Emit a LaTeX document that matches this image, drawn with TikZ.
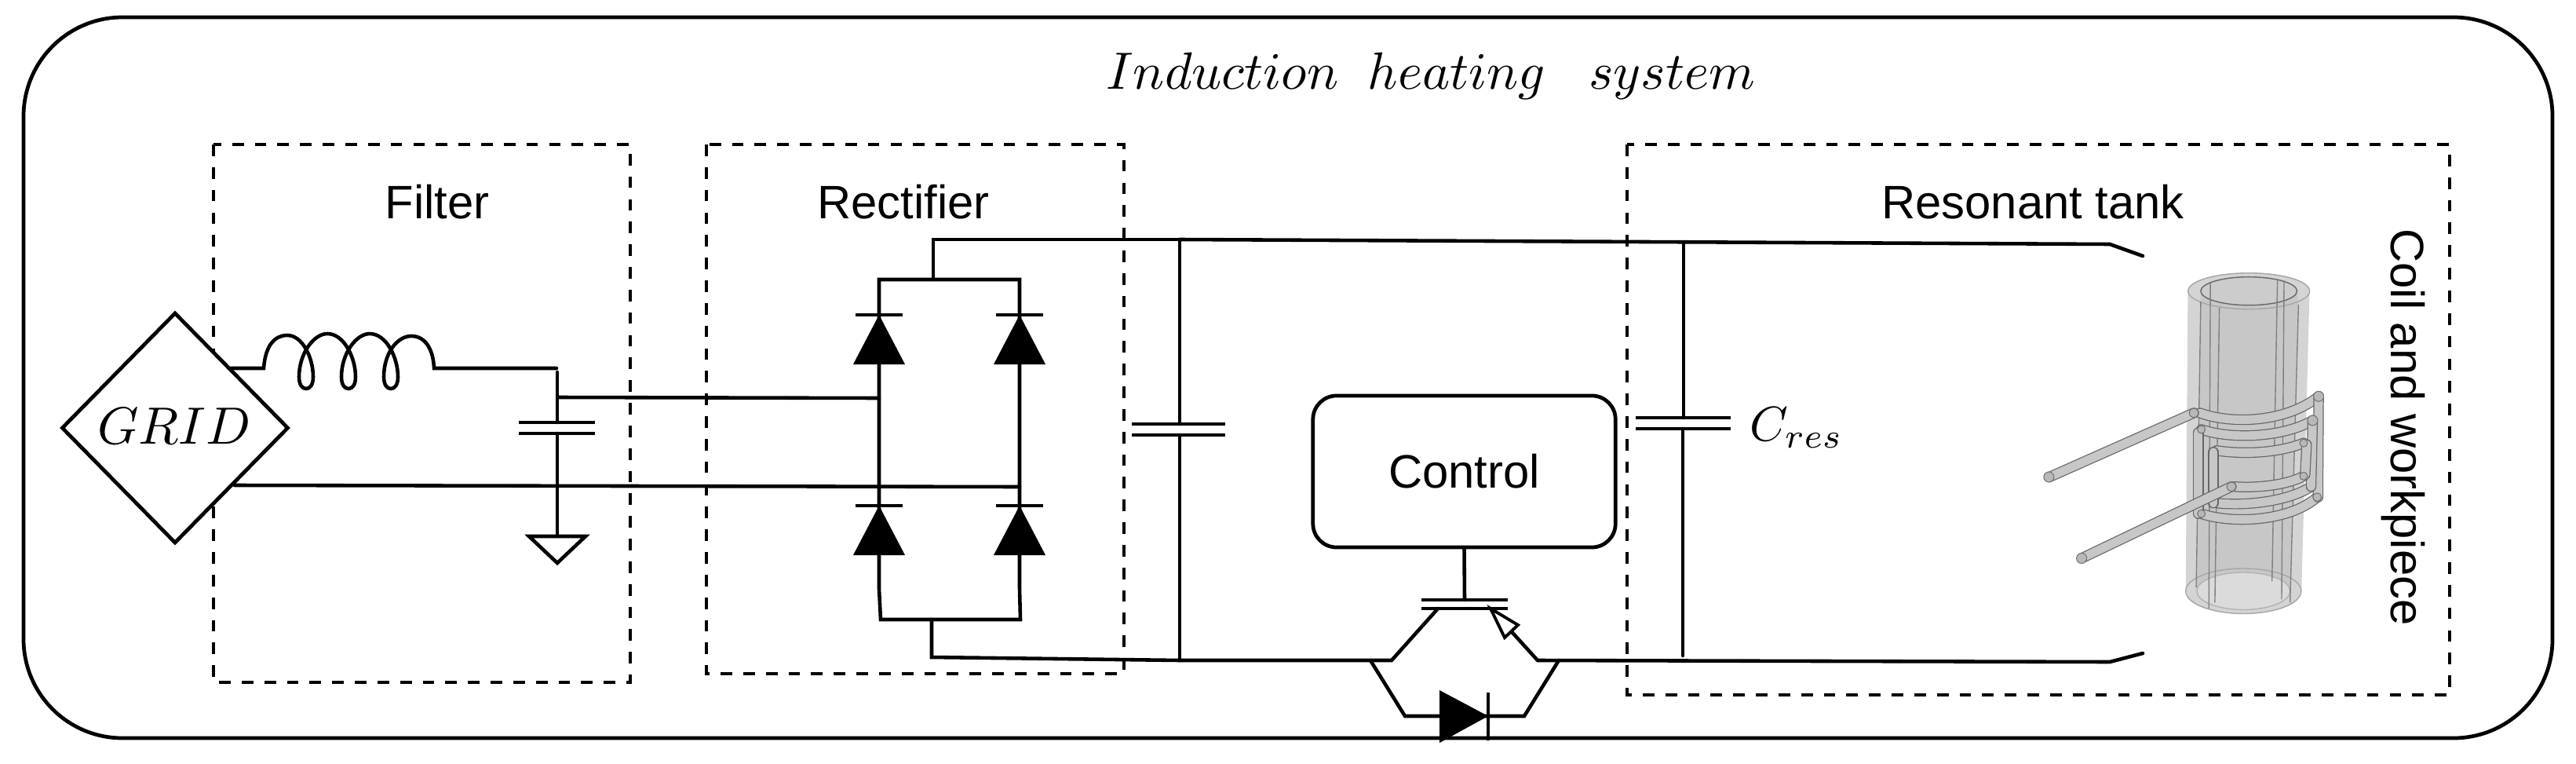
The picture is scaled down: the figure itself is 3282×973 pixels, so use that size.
\documentclass[tikz,border=0pt]{standalone}
\usepackage{fontspec}
\setmainfont{Liberation Sans}
\usetikzlibrary{shapes.geometric}
\tikzset{
  wire/.style={line width=1.3pt,line cap=round,line join=miter,black},
  plate/.style={line width=1.4pt,line cap=butt,black},
  dbox/.style={line width=1.35pt,dash pattern=on 4.2pt off 4pt,black},
  lbl/.style={font=\fontsize{17}{20}\selectfont,inner sep=0pt},
  mth/.style={scale=1.9,inner sep=0pt},
  tube/.style={draw=black!60,line width=.35pt,double=black!22,double distance=3.1pt,line cap=round},
  thin3d/.style={draw=black!50,line width=.4pt},
  cap3d/.style={draw=black!55,fill=black!28,line width=.3pt},
  vdiode/.pic={
    \fill[black] (-33,63) -- (33,63) -- (0,0) -- cycle;
    \draw[plate] (-30,0) -- (30,0);
  }
}
\begin{document}
\begin{tikzpicture}[x=0.01cm,y=-0.01cm]
\useasboundingbox (0,0) rectangle (3282,973);
\draw[line width=1.35pt,rounded corners=1.26cm] (30,22) rectangle (3252,940);

% section boxes
\draw[dbox] (272,184) rectangle (803,869);
\draw[dbox] (900,184) rectangle (1432,858);
\draw[dbox] (2073,184) rectangle (3121,885);

% labels
\node[mth] (title) at (1823,97) {$Induction\ \ heating\ \ \ system$};
\node[lbl] (lfilter) at (557,257) {Filter};
\node[lbl] (lrect) at (1151,257) {Rectifier};
\node[lbl] (ltank) at (2590,257) {Resonant tank};
\node[lbl,rotate=-90] (lcoil) at (3062,544) {Coil and workpiece};
\node[mth,scale=0.93] (lcres) at (2289,545) {$C_{res}$};

% grid source
\node[diamond,draw,line width=1.35pt,fill=white,minimum width=82.2pt,minimum height=83.6pt,aspect=1,inner sep=0pt] (grid) at (223,545) {};
\node[mth] (gridlabel) at (222,543) {$GRID$};

% coordinates
\coordinate (gu) at (294,469);
\coordinate (ls) at (336,469);
\coordinate (le) at (553,469);
\coordinate (cfa) at (709,469);
\coordinate (cft) at (710,474);
\coordinate (cfp1) at (710,538);
\coordinate (cfp2) at (710,552);
\coordinate (gnd) at (710,683);
\coordinate (cfj) at (710,506);
\coordinate (gl) at (299,618);
\coordinate (ru) at (1120,507);
\coordinate (rl) at (1299,620);
\coordinate (rtl) at (1120,356);
\coordinate (rtr) at (1299,356);
\coordinate (rtm) at (1189,356);
\coordinate (rtt) at (1189,305);
\coordinate (rbl) at (1122,789);
\coordinate (rbr) at (1300,789);
\coordinate (rbm) at (1187,789);
\coordinate (rbb) at (1187,837);
\coordinate (rl1) at (1120,750);
\coordinate (rl2) at (1299,750);
\coordinate (bt) at (1503,305);
\coordinate (bb) at (1503,841);
\coordinate (cp1) at (1503,540);
\coordinate (cp2) at (1503,554);
\coordinate (cr) at (2145,309);
\coordinate (crb) at (2144,835);
\coordinate (cr1) at (2145,532);
\coordinate (cr2) at (2144,546);
\coordinate (tr1) at (2688,311);
\coordinate (tr2) at (2730,326);
\coordinate (br1) at (2688,843);
\coordinate (br2) at (2730,832);
\coordinate (coll) at (1773,841);
\coordinate (coll2) at (1832,775);
\coordinate (emit) at (1959,841);
\coordinate (emit2) at (1899,775);
\coordinate (dl) at (1746,841);
\coordinate (dr) at (1986,841);

% inductor
\draw[wire] (gu) -- (ls)
  .. controls (338,440) and (350,427) .. (366,427)
  .. controls (385,427) and (399,455) .. (399,480)
  .. controls (399,490) and (395,495) .. (390,495)
  .. controls (385,495) and (381,490) .. (381,480)
  .. controls (381,450) and (400,425) .. (417,425)
  .. controls (438,425) and (453,455) .. (453,480)
  .. controls (453,490) and (449,495) .. (444,495)
  .. controls (439,495) and (435,490) .. (435,480)
  .. controls (435,450) and (454,425) .. (471,425)
  .. controls (492,425) and (507,455) .. (507,480)
  .. controls (507,490) and (503,495) .. (498,495)
  .. controls (493,495) and (489,490) .. (489,480)
  .. controls (489,450) and (506,428) .. (524,428)
  .. controls (542,428) and (552,445) .. (le) -- (cfa);

% filter cap and ground
\draw[wire] (cft) -- (cfp1) (cfp2) -- (gnd);
\draw[plate] (661,538) -- (758,538) (661,552) -- (758,552);
\draw[wire,line join=miter] (674,683) -- (746,683) -- (710,717) -- cycle;

% input lines
\draw[wire] (cfj) -- (ru);
\draw[wire] (gl) -- (rl);

% rectifier
\draw[wire] (rtl) -- (rtr) -- (rl2) -- (rbr) -- (rbl) -- (rl1) -- (rtl) -- cycle;
\draw[wire] (rtm) -- (rtt) -- (bt);
\draw[wire] (rbm) -- (rbb) -- (bb);
\pic at (1120,401) {vdiode};
\pic at (1299,401) {vdiode};
\pic at (1120,644) {vdiode};
\pic at (1299,644) {vdiode};

% DC link
\draw[wire] (bt) -- (cp1) (cp2) -- (bb);
\draw[plate] (1442,540) -- (1561,540) (1442,554) -- (1561,554);
\draw[wire] (bt) -- (tr1) -- (tr2);
\draw[wire] (bb) -- (coll) -- (coll2);
\draw[wire] (emit2) -- (emit) -- (br1) -- (br2);

% resonant capacitor
\draw[wire] (cr) -- (cr1) (cr2) -- (crb);
\draw[plate] (2084,532) -- (2205,532) (2084,546) -- (2205,546);

% control
\node[draw,line width=1.35pt,rounded corners=0.3cm,minimum width=109.6pt,minimum height=54.9pt,inner sep=0pt,lbl] (ctrl) at (1865.5,600.5) {Control};
\coordinate (gate) at (1866,764);
\draw[wire] (ctrl.south) -- (gate);

% IGBT
\draw[plate] (1811,764) -- (1921,764) (1811,775) -- (1921,775);
\draw[wire,fill=white,line width=1.1pt] (emit2) -- (1934,796) -- (1917,812) -- cycle;

% antiparallel diode
\coordinate (d1) at (1790,912);
\coordinate (d2) at (1942,912);
\draw[wire] (dl) -- (d1) -- (d2) -- (dr);
\fill[black] (1834,879) -- (1834,946) -- (1896,912) -- cycle;
\draw[plate] (1896,882) -- (1896,943);

% coil and workpiece
\begin{scope}[shift={(2500,250)},x=0.003831cm,y=-0.003831cm]
  \fill[black!17] (750,315) .. controls (750,235) and (1155,235) .. (1155,315)
     -- (1128,1312) .. controls (1128,1412) and (743,1412) .. (743,1312) -- cycle;
  \fill[black!22] (793,315) -- (793,400) -- (780,1312) .. controls (780,1390) and (1090,1390) .. (1090,1312) -- (1115,400) -- (1115,315) -- cycle;
  \fill[black!14] (935,1312) ellipse (155 and 62);
  \draw[black!35,line width=.4pt] (953,315) ellipse (202 and 60);
  \fill[black!20] (953,315) ellipse (160 and 47);
  \draw[black!60,line width=.4pt] (953,315) ellipse (160 and 47);
  \draw[black!35,line width=.4pt] (935,1312) ellipse (192 and 75);
  \draw[black!30,line width=.4pt] (935,1312) ellipse (155 and 62);
  \draw[thin3d] (793,350) -- (778,1300) (825,290) -- (820,1370) (855,370) -- (840,1350)
     (1048,280) -- (1030,1280) (1070,280) -- (1062,1340) (1118,360) -- (1090,1350);
  % turns
  \draw[tube] (790,720) .. controls (900,760) and (1080,750) .. (1185,665);
  \draw[tube] (795,775) .. controls (900,810) and (1070,800) .. (1165,745);
  \draw[tube] (845,845) .. controls (950,860) and (1060,850) .. (1135,820);
  \draw[tube] (905,965) .. controls (980,970) and (1080,960) .. (1135,930);
  \draw[tube] (850,1020) .. controls (960,1030) and (1090,1010) .. (1160,965);
  \draw[tube] (795,1055) .. controls (900,1090) and (1090,1080) .. (1180,1000);
  \draw[tube] (1185,665) -- (1183,1000);
  \draw[tube] (1165,745) -- (1160,965);
  \draw[tube] (1145,825) -- (1140,925);
  \draw[tube] (785,785) -- (785,1055);
  \draw[tube] (835,850) -- (835,1020);
  % leads
  \draw[tube] (290,933) -- (770,720);
  \draw[tube] (397,1203) -- (895,965);
  \draw[cap3d] (288,933) circle (17);
  \draw[cap3d] (397,1203) circle (17);
  \draw[cap3d] (1185,665) circle (17);
  \draw[cap3d] (1165,745) circle (17);
  \draw[cap3d] (770,720) circle (15);
  \draw[cap3d] (895,965) circle (15);
  \draw[cap3d] (795,1055) circle (13);
  \draw[cap3d] (1135,820) circle (13);
  \draw[cap3d] (1135,930) circle (13);
  \draw[cap3d] (1180,1000) circle (14);
  \draw[cap3d] (795,775) circle (13);
\end{scope}
\end{tikzpicture}
\end{document}
